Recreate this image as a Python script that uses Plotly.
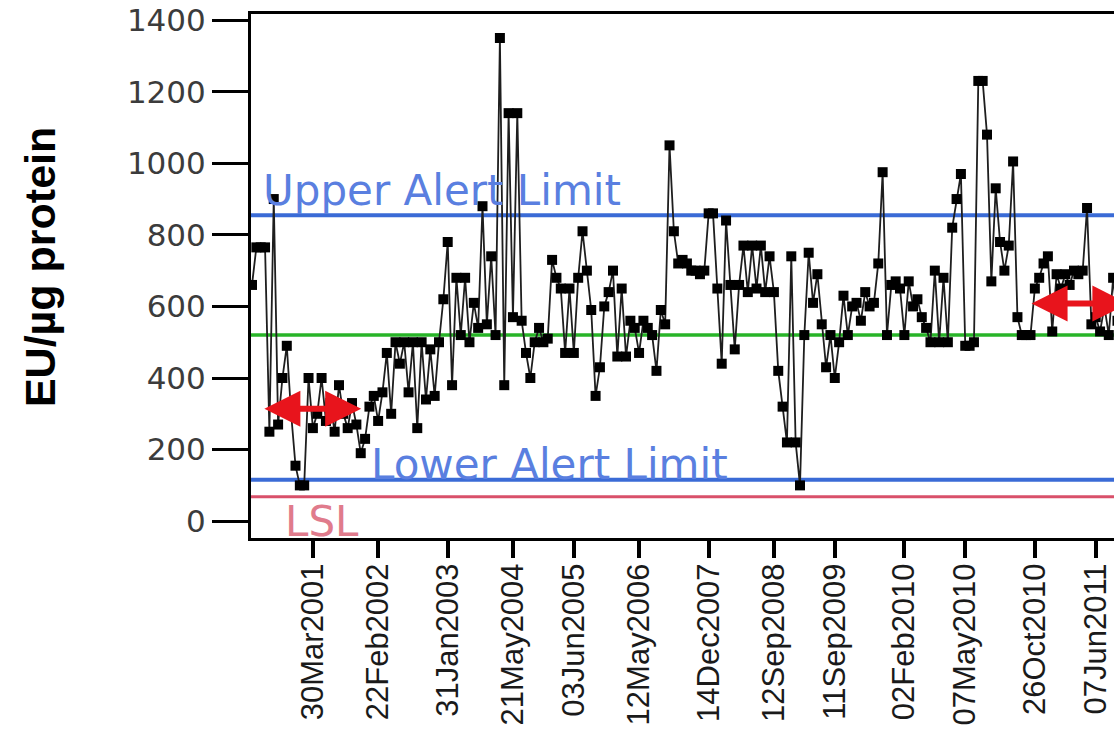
import plotly.graph_objects as go

# ---- data ----
values = [
    660, 765, 765, 765, 250, 900, 270, 400, 490, 300,
    155, 100, 100, 400, 260, 300, 400, 280, 330, 250,
    380, 300, 260, 330, 270, 190, 230, 320, 350, 280,
    360, 470, 300, 500, 440, 500, 360, 500, 260, 500,
    340, 480, 350, 500, 620, 780, 380, 680, 520, 680,
    500, 610, 540, 880, 550, 740, 520, 1350, 380, 1140,
    570, 1140, 560, 470, 400, 500, 540, 500, 510, 730,
    680, 650, 470, 650, 470, 680, 810, 700, 590, 350,
    430, 600, 640, 700, 460, 650, 460, 560, 540, 470,
    560, 540, 520, 420, 590, 550, 1050, 810, 720, 730,
    720, 700, 700, 690, 700, 860, 860, 650, 440, 840,
    660, 480, 660, 770, 640, 770, 650, 770, 640, 740,
    640, 420, 320, 220, 740, 220, 100, 520, 750, 610,
    690, 550, 430, 520, 400, 500, 630, 520, 600, 610,
    560, 640, 600, 610, 720, 975, 520, 660, 670, 650,
    520, 670, 600, 620, 570, 540, 500, 700, 500, 680,
    500, 820, 900, 970, 490, 490, 500, 1230, 1230, 1080,
    670, 930, 780, 700, 770, 1005, 570, 520, 520, 520,
    650, 680, 720, 740, 530, 690, 650, 690, 660, 700,
    690, 700, 875, 550, 570, 530, 600, 520, 680, 560,
]
sample_index = list(range(len(values)))

tick_positions = [14, 29, 45, 60, 74, 89, 105, 120, 134, 150, 164, 180, 194]
tick_labels = ["30Mar2001", "22Feb2002", "31Jan2003", "21May2004", "03Jun2005",
               "12May2006", "14Dec2007", "12Sep2008", "11Sep2009", "02Feb2010",
               "07May2010", "26Oct2010", "07Jun2011"]
y_ticks = [0, 200, 400, 600, 800, 1000, 1200, 1400]

upper_alert = 855
center_line = 520
lower_alert = 116
lsl = 68

# reference-period arrows (start index, end index, level)
arrow_periods = [(2.5, 25.1, 314), (178.9, 201.5, 608)]

fig = go.Figure()

fig.add_trace(go.Scatter(
    x=sample_index, y=values, mode="lines+markers",
    line=dict(color="#1e1e1e", width=1.8),
    marker=dict(symbol="square", size=10, color="black", line=dict(width=0)),
    showlegend=False, hoverinfo="skip",
))

# horizontal limit lines
for yv, col, w in [(upper_alert, "#3a6bd6", 4), (center_line, "#28b428", 3.5),
                   (lower_alert, "#3a6bd6", 4), (lsl, "#d9506a", 3)]:
    fig.add_shape(type="line", xref="paper", x0=0, x1=1, yref="y", y0=yv, y1=yv,
                  line=dict(color=col, width=w), layer="below")

ann = []
ann.append(dict(text="Upper Alert Limit", xref="paper", yref="y", x=0.012, y=upper_alert + 70,
                xanchor="left", yanchor="middle", showarrow=False,
                font=dict(family="DejaVu Sans", size=42, color="#5a7fe0")))
ann.append(dict(text="Lower Alert Limit", xref="paper", yref="y", x=0.137, y=lower_alert + 42,
                xanchor="left", yanchor="middle", showarrow=False,
                font=dict(family="DejaVu Sans", size=42, color="#5a7fe0")))
ann.append(dict(text="LSL", xref="paper", yref="y", x=0.037, y=lsl - 70,
                xanchor="left", yanchor="middle", showarrow=False,
                font=dict(family="DejaVu Sans", size=42, color="#e07b8c")))
for x0, x1, yv in arrow_periods:
    ann.append(dict(text="", x=x1, y=yv, ax=x0, ay=yv, xref="x", yref="y",
                    axref="x", ayref="y", showarrow=True, arrowhead=2,
                    arrowside="end+start", arrowsize=1.2, arrowwidth=6,
                    arrowcolor="#e8141c"))
ann.append(dict(text="<b>EU/µg protein</b>", xref="paper", yref="paper",
                x=-0.2445, y=0.517, xanchor="center", yanchor="middle",
                textangle=-90, showarrow=False,
                font=dict(family="Liberation Sans, Arial", size=43, color="black")))

fig.update_layout(
    width=1114, height=737,
    margin=dict(l=251, r=0, t=14, b=199, pad=0),
    paper_bgcolor="white", plot_bgcolor="white",
    annotations=ann,
    xaxis=dict(range=[-0.23, 198.2], showline=True, linecolor="black", linewidth=3,
               mirror=True, ticks="outside", ticklen=17, tickwidth=4, tickcolor="black",
               tickvals=tick_positions, ticktext=tick_labels, tickangle=-90,
               automargin=False, ticklabelstandoff=-7,
               tickfont=dict(family="Liberation Sans, Arial", size=31, color="#1a1a1a"),
               showgrid=False, zeroline=False),
    yaxis=dict(range=[-47, 1417], showline=True, linecolor="black", linewidth=3,
               ticks="outside", ticklen=36, tickwidth=3, tickcolor="black",
               tickvals=y_ticks, ticklabeloverflow="allow", automargin=False,
               tickfont=dict(family="DejaVu Sans", size=31, color="#3c3c3c"),
               showgrid=False, zeroline=False),
)

# remove the browser's default 8px body margin so the figure fills the window exactly
fig.write_html("out.html", config={"displayModeBar": False},
               post_script="document.body.style.margin='0';document.body.style.overflow='hidden';")
